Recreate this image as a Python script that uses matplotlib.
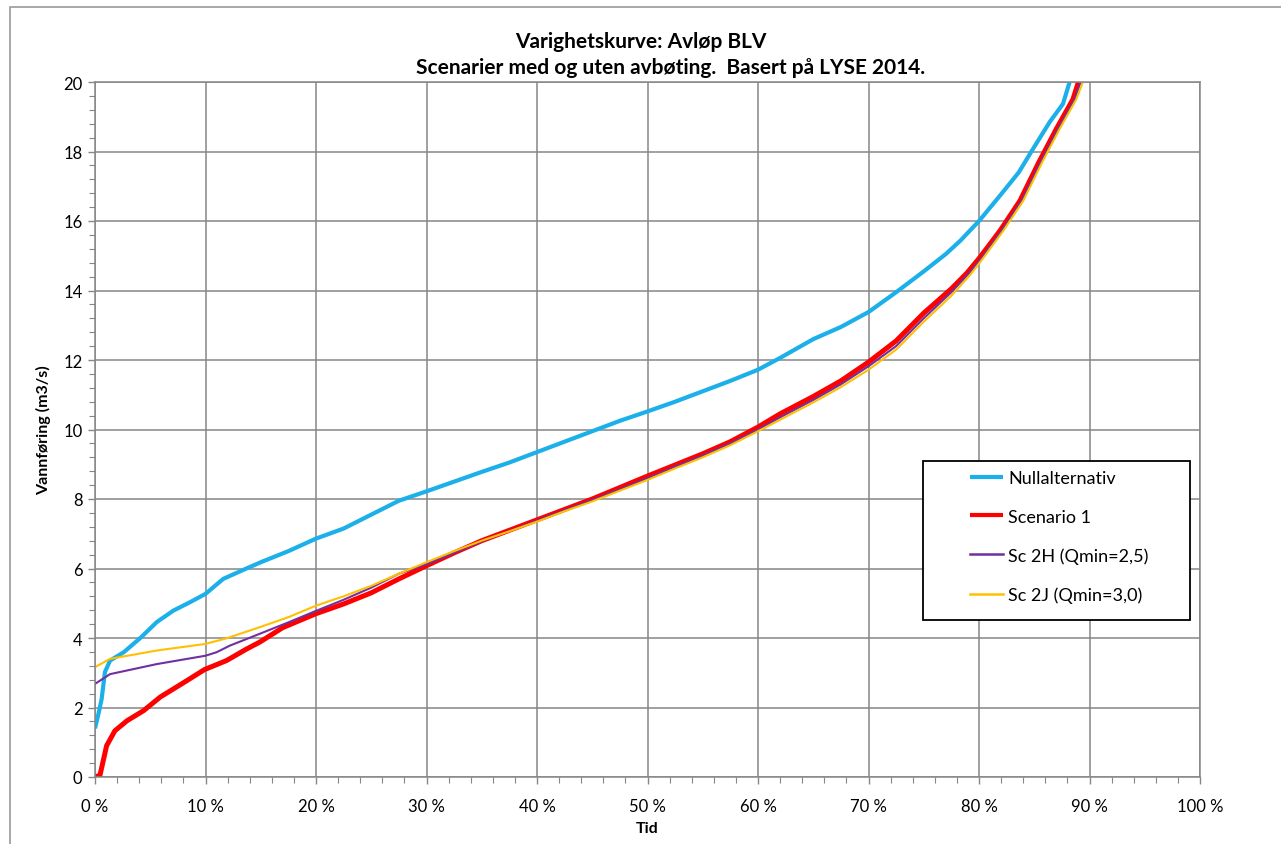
import matplotlib
matplotlib.use("Agg")
import matplotlib.pyplot as plt
from matplotlib.patches import Rectangle
from matplotlib.ticker import MultipleLocator, FuncFormatter

GRID = "#868686"; BLUE = "#1CB0EA"; RED = "#FF0000"; PURPLE = "#7030A0"; YELLOW = "#FFC000"
plt.rcParams.update({"font.family": ["Lato", "DejaVu Sans"], "font.size": 11})

# duration curves: share of time (%) vs discharge (m3/s)
null_x = [0, 0.3, 0.6, 0.9, 1.36, 2.6, 4.1, 5.6, 7.1, 8.6, 10, 11.6, 13.7, 15, 17.5, 20, 22.5,
          25, 27.5, 30, 32.5, 35, 37.5, 40, 42.5, 45, 47.5, 50, 52.5, 55, 57.5, 60, 62, 65,
          67.5, 70, 72.5, 75, 77, 78.3, 80, 81.9, 83.6, 84.8, 86.4, 87.6, 88.2]
null_y = [1.4, 1.8, 2.24, 3.02, 3.35, 3.59, 4.0, 4.46, 4.79, 5.03, 5.27, 5.7, 6.0, 6.18, 6.5,
          6.86, 7.15, 7.55, 7.95, 8.22, 8.5, 8.78, 9.05, 9.35, 9.65, 9.95, 10.25, 10.52, 10.8,
          11.1, 11.4, 11.72, 12.06, 12.6, 12.95, 13.38, 13.95, 14.55, 15.05, 15.43, 16.0, 16.73,
          17.4, 18.03, 18.85, 19.37, 20.0]

sc1_x = [0, 0.45, 1.05, 1.8, 2.9, 4.4, 5.9, 8.3, 9.9, 11.9, 13.7, 14.9, 17, 20, 22.5, 25, 27.5,
         30, 32.5, 35, 37.5, 40, 42.5, 45, 47.5, 50, 52.5, 55, 57.5, 60, 62, 65, 67.5, 70, 72.5,
         75, 77.5, 78.9, 80, 81.9, 83.7, 85.4, 87.0, 88.5, 89.0]
sc1_y = [0, 0.05, 0.9, 1.33, 1.62, 1.91, 2.3, 2.77, 3.09, 3.35, 3.68, 3.88, 4.3, 4.7, 4.98, 5.3,
         5.7, 6.08, 6.45, 6.8, 7.1, 7.4, 7.7, 8.0, 8.33, 8.66, 8.98, 9.3, 9.65, 10.07, 10.45,
         10.95, 11.4, 11.94, 12.55, 13.35, 14.05, 14.5, 14.92, 15.72, 16.58, 17.68, 18.65, 19.5,
         20.0]

sc2h_x = [0, 1.36, 5.6, 10, 11, 12.2, 14.9, 17.5, 20, 22.5, 25, 27.5, 30, 32.5, 35, 37.5, 40,
          42.5, 45, 47.5, 50, 52.5, 55, 57.5, 60, 62, 65, 67.5, 70, 72.5, 75, 77.5, 79.1, 80.15,
          82.05, 83.85, 85.55, 87.15, 88.65, 89.2]
sc2h_y = [2.68, 2.96, 3.25, 3.49, 3.59, 3.78, 4.12, 4.45, 4.78, 5.1, 5.45, 5.85, 6.12, 6.45,
          6.78, 7.08, 7.38, 7.68, 7.97, 8.28, 8.6, 8.93, 9.25, 9.6, 10.0, 10.35, 10.85, 11.3,
          11.82, 12.4, 13.2, 13.95, 14.5, 14.9, 15.72, 16.58, 17.68, 18.65, 19.5, 20.0]

sc2j_x = [0, 1.36, 5.6, 10, 11.9, 14.9, 17.5, 20, 22.5, 25, 27.5, 30, 32.5, 35, 37.5, 40, 42.5,
          45, 47.5, 50, 52.5, 55, 57.5, 60, 62, 65, 67.5, 70, 72.5, 75, 77.5, 79.2, 80.3, 82.2,
          84.0, 85.7, 87.3, 88.8, 89.4]
sc2j_y = [3.16, 3.4, 3.64, 3.83, 3.99, 4.31, 4.6, 4.93, 5.2, 5.5, 5.85, 6.18, 6.5, 6.8, 7.07,
          7.35, 7.65, 7.93, 8.24, 8.55, 8.88, 9.2, 9.55, 9.95, 10.28, 10.78, 11.22, 11.72, 12.3,
          13.1, 13.85, 14.45, 14.9, 15.72, 16.58, 17.68, 18.65, 19.5, 20.0]

labels = ["Nullalternativ", "Scenario 1", "Sc 2H (Qmin=2,5)", "Sc 2J (Qmin=3,0)"]

fig = plt.figure(figsize=(12.81, 8.45), dpi=100)
# outer chart border
fig.patches.append(Rectangle((10 / 1281, -0.05), 1.1, 0.05 + (845 - 8) / 845,
                             transform=fig.transFigure, fill=False, ec="#9a9a9a", lw=1.2))
ax = fig.add_axes([95 / 1281, 67 / 845, 1105 / 1281, 695 / 845])

ax.plot(null_x, null_y, color=BLUE, lw=3.0, label=labels[0], solid_capstyle="butt")
ax.plot(sc1_x, sc1_y, color=RED, lw=3.6, label=labels[1], solid_capstyle="butt")
ax.plot(sc2h_x, sc2h_y, color=PURPLE, lw=1.5, label=labels[2])
ax.plot(sc2j_x, sc2j_y, color=YELLOW, lw=1.5, label=labels[3])

ax.set_xlim(0, 100); ax.set_ylim(0, 20)
ax.xaxis.set_major_locator(MultipleLocator(10)); ax.xaxis.set_minor_locator(MultipleLocator(2))
ax.yaxis.set_major_locator(MultipleLocator(2)); ax.yaxis.set_minor_locator(MultipleLocator(0.4))
ax.xaxis.set_major_formatter(FuncFormatter(lambda v, p: f"{v:.0f} %"))
ax.grid(True, which="major", color=GRID, lw=1.1)
ax.set_axisbelow(True)
for s in ax.spines.values():
    s.set_color(GRID); s.set_linewidth(1.1)
ax.tick_params(which="major", length=5, color=GRID, width=1.0, labelsize=12, pad=4)
ax.tick_params(which="minor", length=4, color=GRID, width=0.8)
ax.tick_params(axis="x", which="major", pad=10)

ax.set_xlabel("Tid", fontweight="bold", fontsize=11.5, labelpad=5)
ax.set_ylabel("Vannføring (m3/s)", fontweight="bold", fontsize=11.5, labelpad=9)
fig.text(0.5, 1 - 42 / 845, "Varighetskurve: Avløp BLV", ha="center", va="center",
         fontsize=15, fontweight="bold")
fig.text(671 / 1281, 1 - 68 / 845, "Scenarier med og uten avbøting.  Basert på LYSE 2014.",
         ha="center", va="center", fontsize=15, fontweight="bold")

# legend box with the entries placed inside it
ax.add_patch(Rectangle((74.93, 4.52), 24.17, 4.57, fc="white", ec="black", lw=1.3, zorder=5))
leg = ax.legend(loc="upper left", bbox_to_anchor=((970 - 95) / 1105, (778 - 471) / 695),
                frameon=False, fontsize=13, handlelength=1.83, handletextpad=0.28,
                labelspacing=1.25, borderpad=0, borderaxespad=0)
leg.set_zorder(6)
for h in leg.get_lines():
    h.set_linewidth(3.0 if h.get_color() in (BLUE, RED) else 1.8)

fig.savefig("out.png", dpi=100)
